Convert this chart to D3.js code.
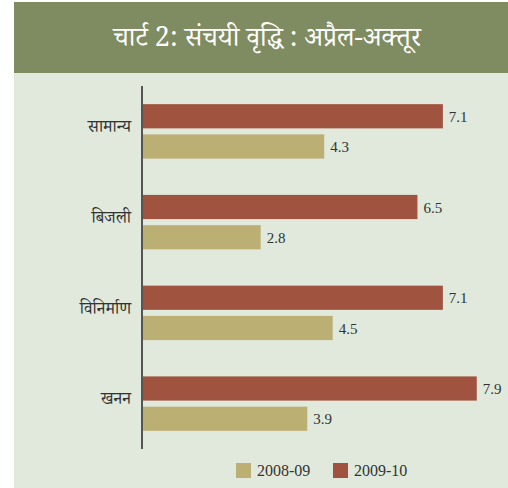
<!DOCTYPE html>
<html>
<head>
<meta charset="utf-8">
<script src="https://cdn.jsdelivr.net/npm/d3@7"></script>
<style>
  body { margin: 0; background: #fff; }
  svg { display: block; }
</style>
</head>
<body>
<script>
const categories = ["सामान्य", "बिजली", "विनिर्माण", "खनन"];
const series = ["2009-10", "2008-09"];
const values0910 = [7.1, 6.5, 7.1, 7.9];
const values0809 = [4.3, 2.8, 4.5, 3.9];
const legendOrder = ["2008-09", "2009-10"];
const title = "चार्ट 2: संचयी वृद्धि : अप्रैल-अक्तूर";

const width = 508;
const height = 488;
const colors = { "2009-10": "#a0533f", "2008-09": "#bcaf74" };
const textFont = "'Noto Serif Devanagari', 'Noto Sans Devanagari', 'Noto Sans', sans-serif";
const numFont = "'Liberation Serif', serif";

const rows = categories.map((c, i) => ({
  cat: c,
  vals: [
    { s: "2009-10", v: values0910[i] },
    { s: "2008-09", v: values0809[i] }
  ]
}));

const svg = d3
  .select("body")
  .append("svg")
  .attr("width", width)
  .attr("height", height);

// panel + title band
svg.append("rect").attr("x", 14).attr("y", 73).attr("width", width - 14).attr("height", height - 73).attr("fill", "#e0e9dc");
svg.append("rect").attr("x", 14).attr("y", 2).attr("width", width - 14).attr("height", 71).attr("fill", "#7f8c61");

svg
  .append("text")
  .attr("x", 267)
  .attr("y", 46)
  .attr("text-anchor", "middle")
  .style("font-family", textFont)
  .style("font-size", "27px")
  .style("fill", "#fff")
  .text(title);

const x = d3.scaleLinear().domain([0, 8]).range([142, 481]);

const y = d3
  .scaleBand()
  .domain(categories)
  .range([86, 449])
  .paddingInner(0.4)
  .paddingOuter(0.2);

const ySub = d3
  .scaleBand()
  .domain(series)
  .range([0, y.bandwidth()])
  .paddingInner(0.2);

const groups = svg
  .append("g")
  .selectAll("g")
  .data(rows)
  .enter()
  .append("g")
  .attr("transform", (d) => `translate(0, ${y(d.cat)})`);

groups
  .selectAll("rect")
  .data((d) => d.vals)
  .enter()
  .append("rect")
  .attr("x", x(0))
  .attr("y", (d) => ySub(d.s))
  .attr("width", (d) => x(d.v) - x(0))
  .attr("height", ySub.bandwidth())
  .attr("fill", (d) => colors[d.s]);

groups
  .selectAll("text")
  .data((d) => d.vals)
  .enter()
  .append("text")
  .attr("x", (d) => x(d.v) + 6)
  .attr("y", (d) => ySub(d.s) + ySub.bandwidth() / 2)
  .attr("dy", "0.38em")
  .style("font-family", numFont)
  .style("font-size", "15px")
  .style("fill", "#333")
  .text((d) => d.v.toFixed(1));

// category axis
const yAxis = svg
  .append("g")
  .attr("transform", `translate(${x(0)}, 0)`)
  .call(d3.axisLeft(y).tickSize(0).tickPadding(11));

yAxis.select(".domain").attr("d", `M0,86V449`).attr("stroke", "#555").attr("stroke-width", 2);
yAxis
  .selectAll("text")
  .attr("dy", "0.05em")
  .style("font-family", textFont)
  .style("font-size", "17px")
  .style("fill", "#333");

// legend
const legend = svg
  .append("g")
  .selectAll("g")
  .data(legendOrder)
  .enter()
  .append("g")
  .attr("transform", (d, i) => `translate(${236 + i * 97}, 463)`);

legend.append("rect").attr("width", 15).attr("height", 15).attr("fill", (d) => colors[d]);
legend
  .append("text")
  .attr("x", 21)
  .attr("y", 12.5)
  .style("font-family", numFont)
  .style("font-size", "16px")
  .style("fill", "#333")
  .text((d) => d);
</script>
</body>
</html>
